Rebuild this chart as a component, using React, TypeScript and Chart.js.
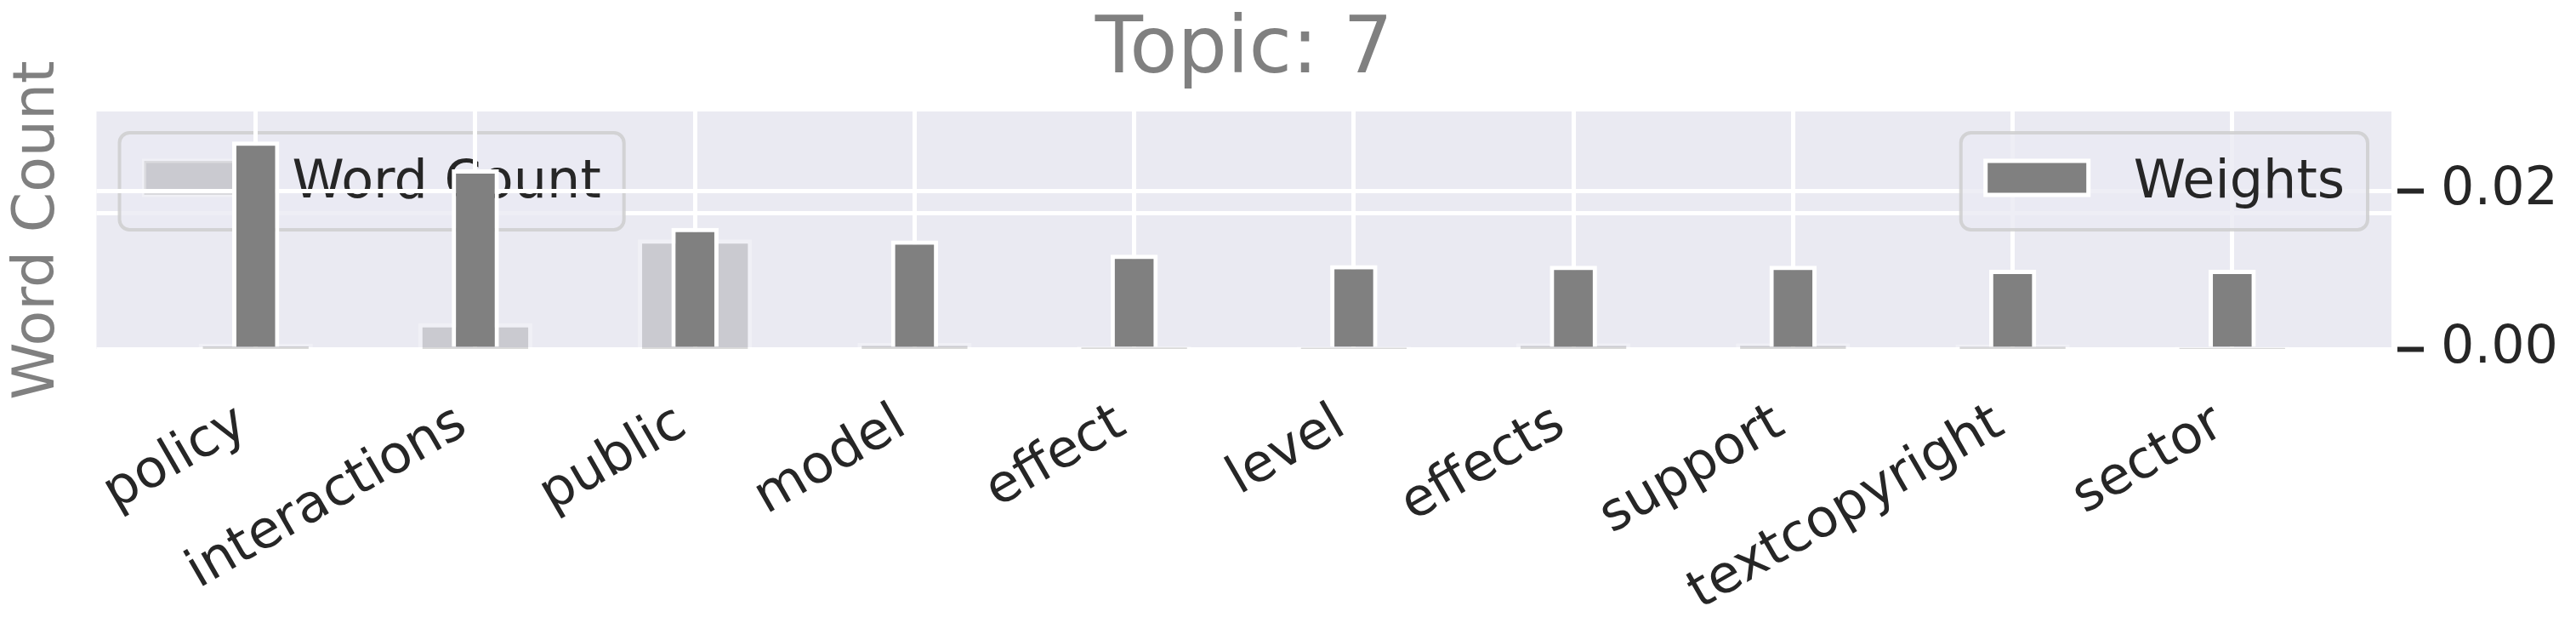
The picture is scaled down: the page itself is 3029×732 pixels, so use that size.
import React, { useEffect, useRef } from 'react';
import { Chart, registerables } from 'chart.js';

Chart.register(...registerables);

// ---- data ----
const categories = ['policy', 'interactions', 'public', 'model', 'effect', 'level', 'effects', 'support', 'textcopyright', 'sector'];
const wordCounts = [75, 380, 1615, 90, 45, 35, 85, 85, 65, 30];
const weights = [0.0262, 0.0227, 0.0153, 0.0137, 0.0119, 0.0106, 0.0105, 0.0105, 0.01, 0.01];
const weightTicks = [0, 0.02];
const countGridTicks = [2000];
const countMax = 3500;
const weightMax = 0.03;
const titleText = 'Topic: 7';
const countLabel = 'Word Count';
const weightLabel = 'Weights';

// ---- styles ----
const FONT = "'DejaVu Sans', 'Noto Sans', sans-serif";
const BG = '#EAEAF2';
const GRAY = '#808080';
const LIGHT = 'rgba(128,128,128,0.3)';
const TEXT = '#262626';

function drawLegend(ctx: CanvasRenderingContext2D, ds: any, x: number, top: number, anchor: 'left' | 'right') {
  ctx.save();
  ctx.font = `62px ${FONT}`;
  const tw = ctx.measureText(ds.label).width;
  const w = 203 + tw + 27;
  const h = 114;
  const left = anchor === 'left' ? x : x - w;
  ctx.beginPath();
  (ctx as any).roundRect(left, top, w, h, 12);
  ctx.fillStyle = 'rgba(234,234,242,0.8)';
  ctx.fill();
  ctx.lineWidth = 4;
  ctx.strokeStyle = 'rgba(204,204,204,0.8)';
  ctx.stroke();
  ctx.fillStyle = ds.backgroundColor;
  ctx.fillRect(left + 29, top + 33, 121, 40);
  ctx.lineWidth = 5;
  ctx.strokeStyle = ds.borderColor;
  ctx.strokeRect(left + 29, top + 33, 121, 40);
  ctx.fillStyle = TEXT;
  ctx.textAlign = 'left';
  ctx.textBaseline = 'alphabetic';
  ctx.fillText(ds.label, left + 203, top + 76);
  ctx.restore();
}

const twinPlugin = {
  id: 'twinLegends',
  beforeDraw(chart: any) {
    const { ctx, chartArea: a, scales } = chart;
    ctx.save();
    ctx.fillStyle = BG;
    ctx.fillRect(a.left, a.top, a.right - a.left, a.bottom - a.top);
    const yc = scales.yCount;
    ctx.strokeStyle = '#FFFFFF';
    ctx.lineWidth = 5;
    countGridTicks.forEach((v) => {
      const y = yc.getPixelForValue(v);
      ctx.beginPath();
      ctx.moveTo(a.left, y);
      ctx.lineTo(a.right, y);
      ctx.stroke();
    });
    ctx.restore();
    drawLegend(ctx, chart.data.datasets[0], a.left + 27, a.top + 25, 'left');
  },
  afterDatasetsDraw(chart: any) {
    const { ctx, chartArea: a } = chart;
    drawLegend(ctx, chart.data.datasets[1], a.right - 28, a.top + 25, 'right');
  },
};

export default function App() {
  const ref = useRef<HTMLCanvasElement>(null);
  useEffect(() => {
    const chart = new Chart(ref.current as HTMLCanvasElement, {
      type: 'bar',
      data: {
        datasets: [
          {
            label: countLabel,
            data: categories.map((_, i) => ({ x: i, y: wordCounts[i] })),
            yAxisID: 'yCount',
            backgroundColor: LIGHT,
            borderColor: 'rgba(255,255,255,0.3)',
            borderWidth: 5,
            grouped: false,
            categoryPercentage: 1,
            barPercentage: 0.52,
            order: 2,
          } as any,
          {
            label: weightLabel,
            data: categories.map((_, i) => ({ x: i, y: weights[i] })),
            yAxisID: 'yWeight',
            backgroundColor: GRAY,
            borderColor: '#FFFFFF',
            borderWidth: 5,
            grouped: false,
            categoryPercentage: 1,
            barPercentage: 0.215,
            order: 1,
          } as any,
        ],
      },
      options: {
        animation: false,
        responsive: false,
        devicePixelRatio: 1,
        layout: { padding: 0 },
        plugins: {
          legend: { display: false },
          tooltip: { enabled: false },
          title: {
            display: true,
            text: titleText,
            color: GRAY,
            fullSize: false,
            font: { family: FONT, size: 92, weight: 'normal', lineHeight: 1.1 },
            padding: { top: 2, bottom: 19.8 },
          },
        },
        scales: {
          x: {
            type: 'linear',
            min: -0.725,
            max: 9.725,
            bounds: 'data',
            offset: false,
            afterBuildTicks: (s: any) => {
              s.ticks = categories.map((_, i) => ({ value: i }));
            },
            afterFit: (s: any) => {
              s.height = 314;
            },
            grid: { color: '#FFFFFF', lineWidth: 5, drawTicks: false, offset: false },
            border: { display: false },
            ticks: {
              autoSkip: false,
              maxRotation: 30,
              minRotation: 30,
              padding: 51.5,
              labelOffset: -15,
              color: TEXT,
              font: { family: FONT, size: 62 },
              callback: (_v: any, i: number) => categories[i],
            },
          },
          yCount: {
            type: 'linear',
            position: 'left',
            min: 0,
            max: countMax,
            afterBuildTicks: (s: any) => {
              s.ticks = [0, ...countGridTicks].map((v) => ({ value: v }));
            },
            afterFit: (s: any) => {
              s.width = 105.5;
            },
            grid: { display: false },
            border: { display: false },
            ticks: { display: false },
            title: {
              display: true,
              text: countLabel,
              color: GRAY,
              font: { family: FONT, size: 68, lineHeight: 1.1 },
              padding: { top: 0, bottom: 0 },
            },
          },
          yWeight: {
            type: 'linear',
            position: 'right',
            min: 0,
            max: weightMax,
            afterBuildTicks: (s: any) => {
              s.ticks = weightTicks.map((v) => ({ value: v }));
            },
            afterFit: (s: any) => {
              s.width = 209;
            },
            grid: {
              color: '#FFFFFF',
              lineWidth: 5,
              drawTicks: true,
              tickLength: 38,
              tickColor: TEXT,
              tickWidth: 6,
              tickBorderDash: [0, 7, 31, 1000],
            },
            border: { display: false },
            ticks: {
              color: TEXT,
              padding: 20,
              font: { family: FONT, size: 62 },
              callback: (v: any) => Number(v).toFixed(2),
            },
          },
        } as any,
      },
      plugins: [twinPlugin],
    } as any);
    return () => chart.destroy();
  }, []);
  return (
    <div style={{ width: 3013, height: 716 }}>
      <canvas ref={ref} width={3013} height={716} style={{ display: 'block' }} />
    </div>
  );
}
